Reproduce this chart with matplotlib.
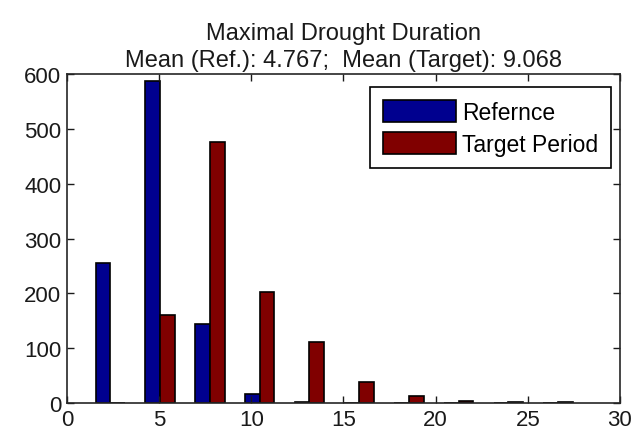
import numpy as np
import matplotlib.pyplot as plt

plt.rcParams['font.family'] = ['Liberation Sans', 'DejaVu Sans']

# histogram bin centres (10 bins) and counts
centers = [2.35, 5.05, 7.75, 10.45, 13.15, 15.85, 18.55, 21.25, 23.95, 26.65]
ref_counts = [255, 587, 144, 16, 2, 0, 0, 0, 0, 0]
target_counts = [0, 160, 476, 202, 111, 39, 13, 3, 2, 2]
labels = ['Refernce', 'Target Period']
title = 'Maximal Drought Duration\nMean (Ref.): 4.767;  Mean (Target): 9.068'

fig = plt.figure(figsize=(6.36, 4.39), dpi=100)
ax = fig.add_axes([0.1053, 0.0797, 0.8695, 0.7494])

w = 0.8
c = np.array(centers)
ax.bar(c - w / 2, ref_counts, width=w, align='center', color='#00008F',
       edgecolor='black', linewidth=1.2, label=labels[0])
ax.bar(c + w / 2, target_counts, width=w, align='center', color='#800000',
       edgecolor='black', linewidth=1.2, label=labels[1])

ax.set(xlim=(0, 30), ylim=(0, 600))
ax.set_xticks(range(0, 31, 5))
ax.set_yticks(range(0, 601, 100))
ax.tick_params(direction='in', top=True, right=True, labelsize=16, length=5,
               width=1, pad=4, colors='#1a1a1a')
for s in ax.spines.values():
    s.set_linewidth(1.2)
    s.set_color('#262626')
ax.set_title(title, fontsize=17, pad=6, linespacing=1.25, color='#1a1a1a')

leg = ax.legend(loc='upper right', bbox_to_anchor=(0.9837, 0.9605),
                fontsize=16.5, handlelength=3.2, handleheight=1.13,
                fancybox=False, framealpha=1, edgecolor='black',
                borderaxespad=0, handletextpad=0.26, labelspacing=0.36,
                borderpad=0.55)
leg.get_frame().set_linewidth(1.2)

fig.savefig('out.png', dpi=100)
